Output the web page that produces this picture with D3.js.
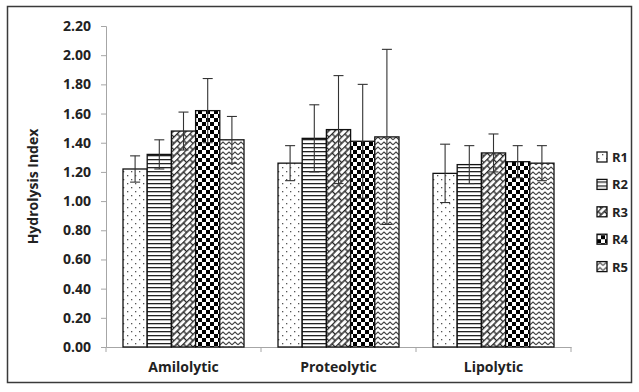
<!DOCTYPE html>
<html>
<head>
<meta charset="utf-8">
<script src="https://cdn.jsdelivr.net/npm/d3@7"></script>
<style>
  body { margin: 0; background: #fff; }
  text { font-family: "Open Sans", "Liberation Sans", sans-serif; font-weight: bold; fill: #222; }
</style>
</head>
<body>
<div id="container"></div>
<script>
// data
const categories = ["Amilolytic", "Proteolytic", "Lipolytic"];
const series = ["R1", "R2", "R3", "R4", "R5"];
const means = [
    [1.22, 1.32, 1.48, 1.62, 1.42],
    [1.26, 1.43, 1.49, 1.41, 1.44],
    [1.19, 1.25, 1.33, 1.27, 1.26]
];
const errors = [
    [0.09, 0.10, 0.13, 0.22, 0.16],
    [0.12, 0.23, 0.37, 0.39, 0.60],
    [0.20, 0.13, 0.13, 0.11, 0.12]
];
const yTicks = [0, 0.2, 0.4, 0.6, 0.8, 1.0, 1.2, 1.4, 1.6, 1.8, 2.0, 2.2];

const W = 639, H = 392;
const margin = { top: 26, left: 106, right: 68, bottom: 45 };
const width = 571 - margin.left,
    height = 347 - margin.top;

const svg = d3.select("#container")
    .append("svg")
    .attr("width", W)
    .attr("height", H);

// fill patterns, one per series
const defs = svg.append("defs");

const p1 = defs.append("pattern").attr("id", "pat-R1")
    .attr("patternUnits", "userSpaceOnUse").attr("width", 8).attr("height", 8);
p1.append("rect").attr("width", 8).attr("height", 8).attr("fill", "#fff");
p1.append("rect").attr("x", 1).attr("y", 1).attr("width", 1.3).attr("height", 1.3).attr("fill", "#555");
p1.append("rect").attr("x", 5).attr("y", 5).attr("width", 1.3).attr("height", 1.3).attr("fill", "#555");

const p2 = defs.append("pattern").attr("id", "pat-R2")
    .attr("patternUnits", "userSpaceOnUse").attr("width", 4).attr("height", 4);
p2.append("rect").attr("width", 4).attr("height", 4).attr("fill", "#fff");
p2.append("rect").attr("y", 1).attr("width", 4).attr("height", 1.3).attr("fill", "#222");

const p3 = defs.append("pattern").attr("id", "pat-R3")
    .attr("patternUnits", "userSpaceOnUse").attr("width", 9).attr("height", 9)
    .attr("patternTransform", "rotate(-45)");
p3.append("rect").attr("width", 9).attr("height", 9).attr("fill", "#fff");
p3.append("path")
    .attr("d", "M0,0.5H9M0,5H9M1,0.5V5M5.5,5V9.5")
    .attr("stroke", "#222").attr("stroke-width", 1.3).attr("fill", "none");

const p4 = defs.append("pattern").attr("id", "pat-R4")
    .attr("patternUnits", "userSpaceOnUse").attr("width", 8).attr("height", 8);
p4.append("rect").attr("width", 8).attr("height", 8).attr("fill", "#fff");
p4.append("rect").attr("width", 4).attr("height", 4).attr("fill", "#000");
p4.append("rect").attr("x", 4).attr("y", 4).attr("width", 4).attr("height", 4).attr("fill", "#000");

const p5 = defs.append("pattern").attr("id", "pat-R5")
    .attr("patternUnits", "userSpaceOnUse").attr("width", 6).attr("height", 5);
p5.append("rect").attr("width", 6).attr("height", 5).attr("fill", "#fff");
p5.append("path")
    .attr("d", "M0,3.8L3,1L6,3.8")
    .attr("stroke", "#444").attr("stroke-width", 1.1).attr("fill", "none");

// outer frame
svg.append("rect")
    .attr("x", 7.5).attr("y", 6.5)
    .attr("width", 624).attr("height", 376)
    .attr("fill", "none")
    .attr("stroke", "#3a3a3a")
    .attr("stroke-width", 1.5);

const g = svg.append("g")
    .attr("transform", `translate(${margin.left}, ${margin.top})`);

const y = d3.scaleLinear().domain([0, 2.2]).range([height, 0]);
const x0 = d3.scaleBand().domain(categories).range([0, width]).paddingInner(0).paddingOuter(0);
const x1 = d3.scaleBand().domain(series).range([17, x0.bandwidth() - 17]).padding(0);

// Y axis
const yAxis = g.append("g")
    .call(d3.axisLeft(y).tickValues(yTicks).tickFormat(d3.format(".2f")).tickSize(5).tickPadding(10));
yAxis.select(".domain").attr("stroke", "#a6a6a6");
yAxis.selectAll(".tick line").attr("stroke", "#a6a6a6");
yAxis.selectAll("text").style("font-size", "14px").attr("fill", "#222");

// X axis
const xAxis = g.append("g")
    .attr("transform", `translate(0, ${height})`)
    .call(d3.axisBottom(x0).tickSize(0).tickPadding(15));
xAxis.select(".domain").attr("stroke", "#a6a6a6");
xAxis.selectAll("text").style("font-size", "14px").attr("fill", "#222");
// separators between categories
g.append("g").selectAll("line")
    .data(categories.concat(["end"]))
    .join("line")
    .attr("x1", (d, i) => i === categories.length ? width : x0(d))
    .attr("x2", (d, i) => i === categories.length ? width : x0(d))
    .attr("y1", height).attr("y2", height + 5)
    .attr("stroke", "#a6a6a6");

// bars
const groups = g.selectAll(".grp")
    .data(categories)
    .join("g")
    .attr("class", "grp")
    .attr("transform", d => `translate(${x0(d)}, 0)`);

groups.selectAll("rect")
    .data((d, ci) => series.map((s, si) => ({ s: s, v: means[ci][si], e: errors[ci][si] })))
    .join("rect")
    .attr("x", d => x1(d.s))
    .attr("y", d => y(d.v))
    .attr("width", x1.bandwidth())
    .attr("height", d => height - y(d.v))
    .attr("fill", d => `url(#pat-${d.s})`)
    .attr("stroke", "#111")
    .attr("stroke-width", 1.3);

// error bars
const eb = groups.selectAll(".err")
    .data((d, ci) => series.map((s, si) => ({ s: s, v: means[ci][si], e: errors[ci][si] })))
    .join("g")
    .attr("class", "err")
    .attr("stroke", "#333")
    .attr("stroke-width", 1.1);
eb.append("line")
    .attr("x1", d => x1(d.s) + x1.bandwidth() / 2)
    .attr("x2", d => x1(d.s) + x1.bandwidth() / 2)
    .attr("y1", d => y(d.v - d.e))
    .attr("y2", d => y(d.v + d.e));
eb.append("line")
    .attr("x1", d => x1(d.s) + x1.bandwidth() / 2 - 5)
    .attr("x2", d => x1(d.s) + x1.bandwidth() / 2 + 5)
    .attr("y1", d => y(d.v + d.e))
    .attr("y2", d => y(d.v + d.e));
eb.append("line")
    .attr("x1", d => x1(d.s) + x1.bandwidth() / 2 - 5)
    .attr("x2", d => x1(d.s) + x1.bandwidth() / 2 + 5)
    .attr("y1", d => y(d.v - d.e))
    .attr("y2", d => y(d.v - d.e));

// y title
svg.append("text")
    .attr("transform", `translate(38, ${margin.top + height / 2}) rotate(-90)`)
    .attr("text-anchor", "middle")
    .style("font-size", "14px")
    .text("Hydrolysis Index");

// legend
const legend = svg.append("g")
    .selectAll("g")
    .data(series)
    .join("g")
    .attr("transform", (d, i) => `translate(597, ${157 + i * 27.4})`);
legend.append("rect")
    .attr("x", 0).attr("y", -5)
    .attr("width", 10).attr("height", 10)
    .attr("fill", d => `url(#pat-${d})`)
    .attr("stroke", "#111")
    .attr("stroke-width", 1.3);
legend.append("text")
    .attr("x", 15).attr("y", 5)
    .style("font-size", "13px")
    .text(d => d);
</script>
</body>
</html>
